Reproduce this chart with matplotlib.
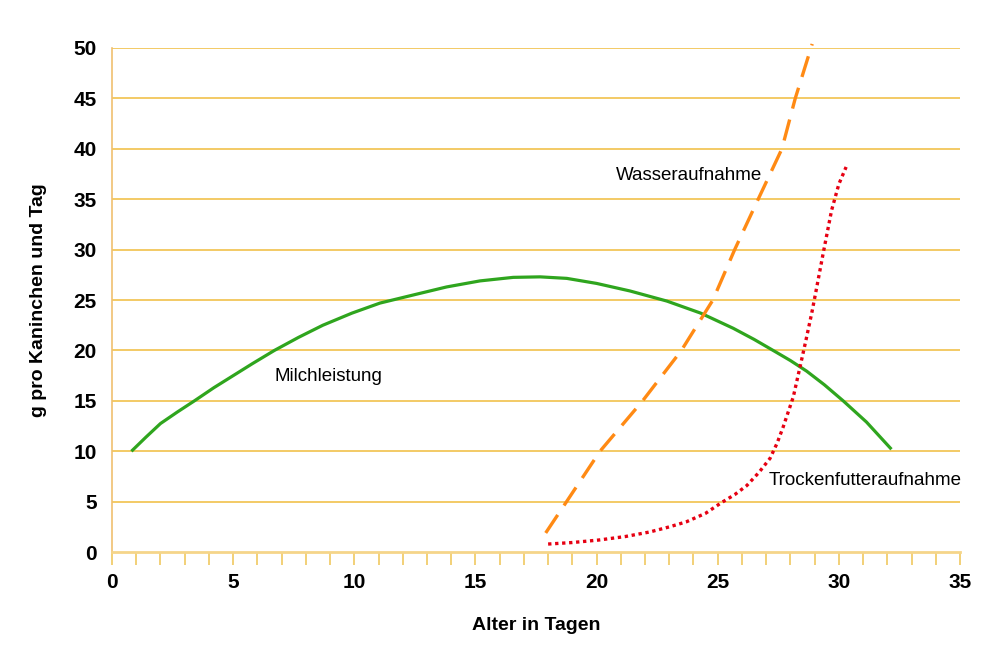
import matplotlib
matplotlib.use('Agg')
import matplotlib.pyplot as plt
from matplotlib.ticker import MultipleLocator

plt.rcParams['font.family'] = ['Liberation Sans', 'DejaVu Sans']

# Milchleistung (green, solid)
milch_x = [0.8, 1.4, 2.0, 2.7, 3.4, 4.2, 5.0, 5.8, 6.7, 7.7, 8.7, 9.9, 11.06, 12.43, 13.81,
           15.19, 16.56, 17.67, 18.77, 20.0, 21.38, 22.9, 24.3, 25.64, 26.5, 27.29, 28.0, 28.67,
           29.4, 30.18, 31.14, 32.17]
milch_y = [10.0, 11.4, 12.75, 13.9, 15.0, 16.3, 17.5, 18.7, 20.0, 21.3, 22.5, 23.7, 24.7, 25.5, 26.3,
           26.9, 27.25, 27.3, 27.15, 26.65, 25.9, 24.9, 23.7, 22.2, 21.1, 20.0, 19.0, 17.95,
           16.6, 15.0, 12.9, 10.2]

# Wasseraufnahme (orange, dashed)
wasser_x = [17.9, 18.76, 20.14, 21.9, 23.5, 24.8, 25.7, 26.67, 27.65, 28.2, 28.9]
wasser_y = [1.9, 5.0, 10.0, 15.0, 20.0, 25.0, 30.0, 35.0, 40.0, 45.0, 50.4]

# Trockenfutteraufnahme (red, dotted)
trocken_x = [18.0, 19.0, 20.1, 21.2, 22.2, 23.0, 23.7, 24.5, 25.15, 25.7, 26.2, 26.7, 27.16,
             27.45, 27.7, 28.12, 28.4, 28.64, 28.88, 29.05, 29.35, 29.7, 30.0, 30.3]
trocken_y = [0.8, 0.95, 1.2, 1.55, 2.0, 2.5, 3.0, 3.85, 4.9, 5.7, 6.6, 7.9, 9.3,
             10.8, 12.4, 15.4, 18.4, 21.0, 23.7, 25.8, 29.6, 33.9, 36.5, 38.2]

grid_color = '#f0bc3c'

fig = plt.figure(figsize=(10, 6.62), dpi=100)
ax = fig.add_axes([0.112, 0.166, 0.848, 0.7615])

ax.set_xlim(0, 35)
ax.set_ylim(0, 50)

# horizontal grid lines
for yv in range(5, 51, 5):
    ax.axhline(yv, color=grid_color, lw=1.1, zorder=1)

ax.plot(milch_x, milch_y, color='#2fa51e', lw=2.3, zorder=3, solid_capstyle='butt')
ax.plot(wasser_x, wasser_y, color='#ff8a14', lw=2.4, dashes=(6.5, 3.4), zorder=3, clip_on=False)
ax.plot(trocken_x, trocken_y, color='#e60012', lw=2.4, dashes=(1.0, 1.1), zorder=3)

ax.text(6.7, 17.4, 'Milchleistung', fontsize=13.5, va='center', ha='left')
ax.text(20.8, 37.4, 'Wasseraufnahme', fontsize=13.5, va='center', ha='left')
ax.text(27.1, 7.1, 'Trockenfutteraufnahme', fontsize=13.5, va='center', ha='left')

for s in ['top', 'right']:
    ax.spines[s].set_visible(False)
ax.spines['left'].set_color('#f0c070')
ax.spines['left'].set_linewidth(1.2)
ax.spines['bottom'].set_color('#f5d58a')
ax.spines['bottom'].set_linewidth(2)

ax.xaxis.set_major_locator(MultipleLocator(5))
ax.xaxis.set_minor_locator(MultipleLocator(1))
ax.yaxis.set_major_locator(MultipleLocator(5))
ax.tick_params(axis='x', which='both', direction='out', length=9, color='#f0c860', width=1.2, pad=6)
ax.tick_params(axis='y', length=0, pad=11)
for lab in ax.get_xticklabels() + ax.get_yticklabels():
    lab.set_fontsize(15)
    lab.set_fontweight('bold')

ax.set_xlabel('Alter in Tagen', fontsize=14, fontweight='bold', labelpad=18)
ax.set_ylabel('g pro Kaninchen und Tag', fontsize=14, fontweight='bold', labelpad=19)

fig.savefig('out.png', dpi=100)
